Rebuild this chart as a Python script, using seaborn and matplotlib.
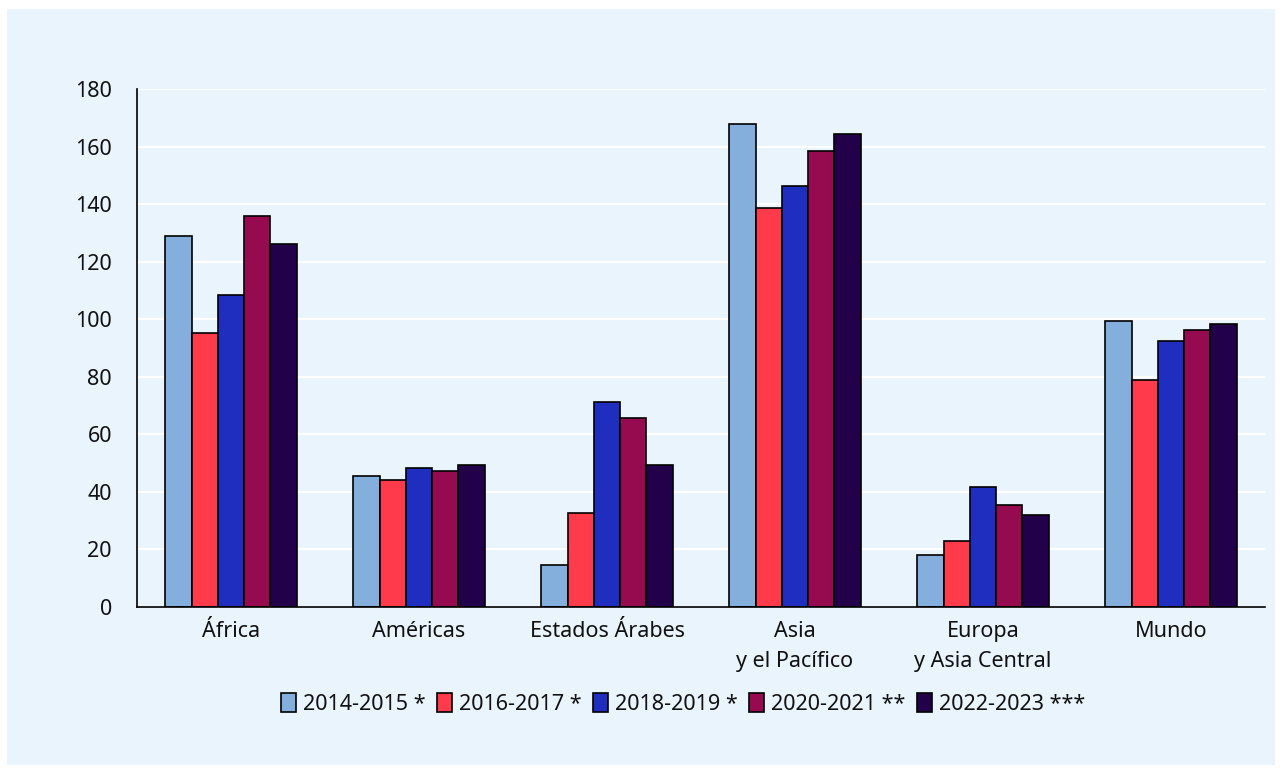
import matplotlib
matplotlib.use("Agg")
import matplotlib.pyplot as plt
import matplotlib.patches as mpatches
import seaborn as sns
import pandas as pd
import numpy as np

# Regions and periods
regions = ["África", "Américas", "Estados Árabes", "Asia\ny el Pacífico",
           "Europa\ny Asia Central", "Mundo"]
periods = ["2014-2015 *", "2016-2017 *", "2018-2019 *", "2020-2021 **", "2022-2023 ***"]

# Values per period, one entry per region
v_2014_2015 = [129.0, 45.5, 14.5, 167.9, 17.9, 99.4]
v_2016_2017 = [95.3, 44.2, 32.5, 138.8, 23.1, 79.0]
v_2018_2019 = [108.5, 48.3, 71.4, 146.3, 41.8, 92.4]
v_2020_2021 = [136.0, 47.3, 65.6, 158.6, 35.4, 96.1]
v_2022_2023 = [126.1, 49.4, 49.4, 164.5, 32.0, 98.3]

yticks = [0, 20, 40, 60, 80, 100, 120, 140, 160, 180]

colors = ["#84AEDB", "#FF3B4B", "#1F2EBE", "#960A50", "#22004A"]
panel_bg = "#EAF4FD"
text_color = "#111111"

series = [v_2014_2015, v_2016_2017, v_2018_2019, v_2020_2021, v_2022_2023]
df = pd.DataFrame({
    "region": [r for s in series for r in regions],
    "period": [p for p, s in zip(periods, series) for _ in s],
    "value": [v for s in series for v in s],
})

sns.set_theme(style="white")
plt.rcParams["font.family"] = ["Noto Sans", "DejaVu Sans"]

fig = plt.figure(figsize=(12.83, 7.74), dpi=100)
fig.patch.set_facecolor("white")
# light panel behind the whole chart
fig.patches.append(mpatches.Rectangle((7 / 1283, 1 - 765 / 774), (1275 - 7) / 1283, (765 - 9) / 774,
                                      transform=fig.transFigure, facecolor=panel_bg,
                                      edgecolor="none", zorder=-10))

ax = fig.add_axes([137 / 1283, 1 - 607 / 774, (1265 - 137) / 1283, (607 - 89) / 774])
ax.set_zorder(1)
ax.set_facecolor(panel_bg)

sns.barplot(data=df, x="region", y="value", hue="period", order=regions,
            hue_order=periods, palette=colors, width=0.7, gap=0,
            edgecolor="black", linewidth=1.2, saturation=1, ax=ax, legend=False)

ax.set_xlim(-0.5, len(regions) - 0.5)
ax.set_ylim(0, 180)
ax.set_yticks(yticks)
ax.set_yticklabels([str(t) for t in yticks], fontsize=15.5, color=text_color)
ax.yaxis.grid(True, color="white", linewidth=1.6)
ax.set_axisbelow(True)

ax.set_xlabel("")
ax.set_ylabel("")
ax.tick_params(axis="x", which="major", length=0, labelsize=15.5, labelcolor=text_color, pad=10)
ax.set_xticks(np.arange(-0.5, len(regions)), minor=True)
ax.tick_params(axis="x", which="minor", length=7, width=1.2, color="black", direction="out")
ax.tick_params(axis="y", length=6, width=1.2, color="black", direction="out", pad=12)
for lbl in ax.get_xticklabels():
    lbl.set_linespacing(1.55)

for side in ["top", "right"]:
    ax.spines[side].set_visible(False)
for side in ["left", "bottom"]:
    ax.spines[side].set_color("black")
    ax.spines[side].set_linewidth(1.2)

handles = [mpatches.Patch(facecolor=c, edgecolor="black", linewidth=1.2) for c in colors]
leg = fig.legend(handles, periods, loc="center", bbox_to_anchor=(683 / 1283, 1 - 704 / 774),
                 ncol=5, frameon=False, handlelength=0.7, handleheight=1.0,
                 handletextpad=0.3, columnspacing=0.55, borderpad=0,
                 labelcolor=text_color,
                 prop={"family": ["Noto Sans", "DejaVu Sans"], "size": 15.5})

fig.savefig("out.png", dpi=100, facecolor=fig.get_facecolor())
